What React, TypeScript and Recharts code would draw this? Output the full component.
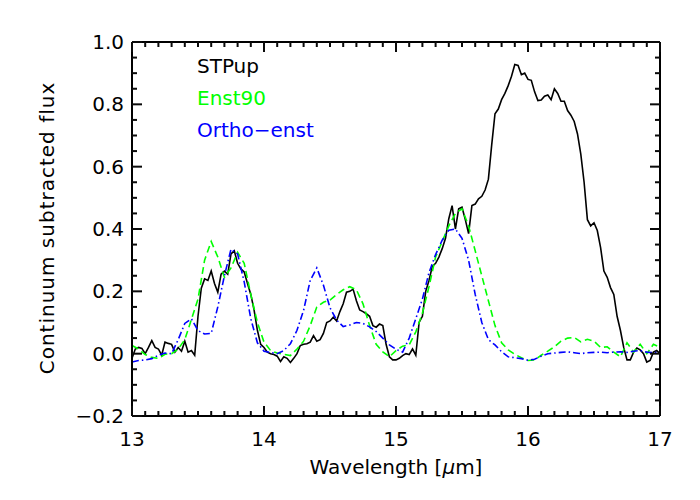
import { Line, LineChart, XAxis, YAxis } from "recharts";

// wavelength grid in micron
const stpWave = Array.from({ length: 161 }, (_, i) => +(13 + i * 0.025).toFixed(3));
const labWave = Array.from({ length: 81 }, (_, i) => +(13 + i * 0.05).toFixed(2));

// STPup spectrum
const stpFlux = [
  -0.015, 0.015, 0.02, 0.017, 0.0, 0.02, 0.042, 0.02, 0.015, -0.005,
  0.037, 0.033, 0.03, 0.005, 0.02, 0.008, 0.04, 0.005, 0.01, -0.005,
  0.12, 0.21, 0.24, 0.235, 0.265, 0.225, 0.197, 0.255, 0.265, 0.255,
  0.32, 0.33, 0.29, 0.272, 0.262, 0.225, 0.19, 0.14, 0.075, 0.03,
  0.02, 0.005, 0.0, -0.003, -0.008, -0.025, -0.01, -0.015, -0.028, -0.015,
  0.0, 0.026, 0.03, 0.032, 0.037, 0.058, 0.04, 0.045, 0.065, 0.1,
  0.105, 0.117, 0.105, 0.135, 0.16, 0.197, 0.2, 0.207, 0.17, 0.14,
  0.135, 0.128, 0.12, 0.09, 0.085, 0.095, 0.09, 0.03, -0.01, -0.02,
  -0.02, -0.015, -0.006, 0.0, -0.003, 0.015, -0.005, 0.1, 0.12, 0.2,
  0.235, 0.28, 0.29, 0.31, 0.337, 0.37, 0.433, 0.475, 0.4, 0.465,
  0.47, 0.43, 0.385, 0.475, 0.48, 0.497, 0.505, 0.525, 0.56, 0.67,
  0.77, 0.785, 0.815, 0.835, 0.86, 0.89, 0.928, 0.925, 0.895, 0.9,
  0.88, 0.877, 0.84, 0.812, 0.814, 0.826, 0.83, 0.815, 0.85, 0.835,
  0.81, 0.81, 0.78, 0.765, 0.745, 0.705, 0.64, 0.55, 0.43, 0.41,
  0.42, 0.395, 0.34, 0.265, 0.245, 0.212, 0.19, 0.12, 0.075, 0.02,
  -0.02, -0.02, 0.005, 0.018, 0.012, 0.0, -0.027, -0.022, 0.005, 0.01,
  0.0,
];

// Enst90 lab spectrum
const enstFlux = [
  0.026, 0.015, -0.003, -0.012, -0.015, -0.002, 0.0, 0.015, 0.045, 0.11,
  0.175, 0.3, 0.36, 0.31, 0.245, 0.275, 0.325, 0.29, 0.19, 0.1,
  0.037, 0.01, 0.002, -0.002, -0.006, 0.015, 0.04, 0.09, 0.15, 0.165,
  0.172, 0.19, 0.205, 0.215, 0.205, 0.16, 0.09, 0.03, 0.006, -0.01,
  0.01, 0.024, 0.028, 0.07, 0.13, 0.215, 0.31, 0.36, 0.41, 0.45,
  0.465, 0.41, 0.33, 0.25, 0.17, 0.09, 0.035, 0.012, -0.002, -0.013,
  -0.022, -0.02, -0.005, 0.008, 0.022, 0.04, 0.05, 0.052, 0.038, 0.046,
  0.04, 0.02, 0.022, 0.005, -0.01, 0.035, 0.005, 0.03, 0.0, 0.03,
  0.02,
];

// Ortho-enstatite lab spectrum
const orthoFlux = [
  -0.027, -0.022, -0.02, -0.016, -0.005, 0.002, 0.0, 0.045, 0.097, 0.112,
  0.074, 0.063, 0.065, 0.15, 0.25, 0.335, 0.32, 0.23, 0.112, 0.035,
  0.008, 0.004, 0.0, 0.01, 0.032, 0.075, 0.139, 0.235, 0.275, 0.22,
  0.147, 0.108, 0.087, 0.092, 0.1, 0.097, 0.086, 0.071, 0.05, 0.028,
  0.014, 0.005, 0.05, 0.112, 0.175, 0.26, 0.318, 0.364, 0.396, 0.4,
  0.37, 0.3, 0.19, 0.1, 0.045, 0.028, 0.006, -0.01, -0.013, -0.016,
  -0.021, -0.018, -0.008, 0.0, 0.002, 0.004, 0.006, 0.003, 0.0, 0.003,
  0.004, 0.005, 0.003, 0.005, 0.006, 0.004, 0.008, 0.01, 0.005, 0.003,
  0.005,
];

const xMajor = [13, 14, 15, 16, 17];
const yMajor = [-0.2, 0.0, 0.2, 0.4, 0.6, 0.8, 1.0];
const xTicks = Array.from({ length: 41 }, (_, i) => +(13 + i * 0.1).toFixed(1));
const yTicks = Array.from({ length: 25 }, (_, i) => +(-0.2 + i * 0.05).toFixed(2));

const stpData = stpWave.map((w, i) => ({ w, f: stpFlux[i] }));
const enstData = labWave.map((w, i) => ({ w, f: enstFlux[i] }));
const orthoData = labWave.map((w, i) => ({ w, f: orthoFlux[i] }));

// plot box in pixels
const L = 132, R = 660, T = 42, B = 416;
const MAJ = 10, MIN = 5;
const FONT = "DejaVu Sans";
const INK = "rgb(10,10,10)";

const isXMajor = (v: number) => xMajor.some((m) => Math.abs(m - v) < 1e-6);
const isYMajor = (v: number) => yMajor.some((m) => Math.abs(m - v) < 1e-6);
const fmtY = (v: number) => (v < 0 ? "\u2212" : "") + Math.abs(v).toFixed(1);

// IDL-style ticks: pointing into the plot box
function XTick(props: any) {
  const { x, payload, side } = props;
  const major = isXMajor(payload.value);
  const len = major ? MAJ : MIN;
  if (side === "top") {
    return <rect x={x - 1} y={T} width={2} height={len} fill={INK} />;
  }
  return (
    <g>
      <rect x={x - 1} y={B - len} width={2} height={len} fill={INK} />
      {major && (
        <text x={x} y={B + 30} textAnchor="middle" fontSize={20} fontFamily={FONT} fill="#000">
          {payload.value}
        </text>
      )}
    </g>
  );
}

function YTick(props: any) {
  const { y, payload, side } = props;
  const major = isYMajor(payload.value);
  const len = major ? MAJ : MIN;
  if (side === "right") {
    return <rect x={R - len} y={y - 1} width={len} height={2} fill={INK} />;
  }
  return (
    <g>
      <rect x={L} y={y - 1} width={len} height={2} fill={INK} />
      {major && (
        <text x={L - 8} y={y + 7} textAnchor="end" fontSize={20} fontFamily={FONT} fill="#000">
          {fmtY(payload.value)}
        </text>
      )}
    </g>
  );
}

const legendItems = [
  { name: "STPup", color: "#000000" },
  { name: "Enst90", color: "#00ff00" },
  { name: "Ortho\u2212enst", color: "#0000ff" },
];

export default function App() {
  const axisLine = { stroke: "#000", strokeWidth: 2 };
  return (
    <div style={{ position: "absolute", left: 0, top: 0, width: 700, height: 500, background: "#fff", fontFamily: FONT }}>
      <LineChart width={700} height={500} margin={{ top: T - 1, right: 700 - R - 1, bottom: 500 - B - 30, left: L - 60 }}>
        <XAxis
          xAxisId="b" dataKey="w" type="number" domain={[13, 17]} ticks={xTicks} interval={0}
          allowDataOverflow height={30} tickSize={0} axisLine={axisLine} tick={<XTick side="bottom" />}
        />
        <XAxis
          xAxisId="t" orientation="top" dataKey="w" type="number" domain={[13, 17]} ticks={xTicks} interval={0}
          allowDataOverflow height={1} tickSize={0} axisLine={axisLine} tick={<XTick side="top" />}
        />
        <YAxis
          yAxisId="l" type="number" domain={[-0.2, 1.0]} ticks={yTicks} interval={0}
          allowDataOverflow width={60} tickSize={0} axisLine={axisLine} tick={<YTick side="left" />}
        />
        <YAxis
          yAxisId="r" orientation="right" type="number" domain={[-0.2, 1.0]} ticks={yTicks} interval={0}
          allowDataOverflow width={1} tickSize={0} axisLine={axisLine} tick={<YTick side="right" />}
        />
        <Line xAxisId="b" yAxisId="l" data={stpData} dataKey="f" stroke="#000" strokeWidth={1.6}
          dot={false} isAnimationActive={false} />
        <Line xAxisId="b" yAxisId="l" data={enstData} dataKey="f" stroke="#00ff00" strokeWidth={1.6}
          strokeDasharray="7 4" dot={false} isAnimationActive={false} />
        <Line xAxisId="b" yAxisId="l" data={orthoData} dataKey="f" stroke="#0000ff" strokeWidth={1.6}
          strokeDasharray="7 3 1.5 3" dot={false} isAnimationActive={false} />
        <Line xAxisId="t" yAxisId="r" data={stpData} dataKey="f" stroke="none" dot={false}
          isAnimationActive={false} legendType="none" />
      </LineChart>

      {legendItems.map((it, i) => (
        <div key={it.name} style={{ position: "absolute", left: 197, top: 54 + i * 32, fontSize: 20, color: it.color, lineHeight: "24px" }}>
          {it.name}
        </div>
      ))}
      <div style={{ position: "absolute", left: (L + R) / 2, top: 467, transform: "translate(-50%, -50%)", fontSize: 20, whiteSpace: "nowrap" }}>
        Wavelength [<span style={{ fontStyle: "italic" }}>μ</span>m]
      </div>
      <div style={{ position: "absolute", left: 47, top: 228, transform: "translate(-50%, -50%) rotate(-90deg)", fontSize: 20, whiteSpace: "nowrap", letterSpacing: 1 }}>
        Continuum subtracted flux
      </div>
    </div>
  );
}
